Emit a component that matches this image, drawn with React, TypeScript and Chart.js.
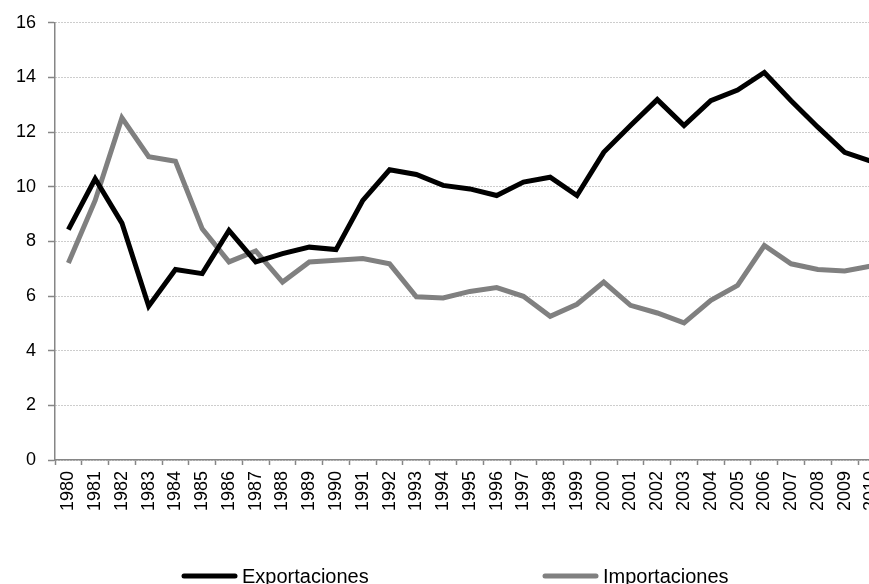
import React, { useEffect, useRef } from "react";
import { Chart, registerables } from "chart.js";

Chart.register(...registerables);

const years = [
  "1980", "1981", "1982", "1983", "1984", "1985", "1986", "1987", "1988", "1989",
  "1990", "1991", "1992", "1993", "1994", "1995", "1996", "1997", "1998", "1999",
  "2000", "2001", "2002", "2003", "2004", "2005", "2006", "2007", "2008", "2009", "2010",
];

const exportaciones = [
  8.43, 10.29, 8.67, 5.63, 6.97, 6.82, 8.4, 7.25, 7.55, 7.79,
  7.7, 9.5, 10.62, 10.45, 10.05, 9.92, 9.68, 10.17, 10.35, 9.68,
  11.26, 12.24, 13.19, 12.24, 13.15, 13.54, 14.18, 13.15, 12.18, 11.26, 10.93,
];

const importaciones = [
  7.21, 9.5, 12.52, 11.1, 10.93, 8.46, 7.25, 7.65, 6.51, 7.25,
  7.31, 7.37, 7.18, 5.97, 5.93, 6.17, 6.31, 5.99, 5.26, 5.7,
  6.51, 5.66, 5.38, 5.02, 5.84, 6.39, 7.85, 7.18, 6.97, 6.92, 7.1,
];

const seriesNames = ["Exportaciones", "Importaciones"];
const seriesColors = ["#000000", "#808080"];

const FONT = "Arial, 'Liberation Sans', sans-serif";
const W = 899;
const H = 584;

const legendPlugin = {
  id: "customLegend",
  afterDraw(chart: any) {
    const ctx = chart.ctx;
    const starts = [182, 543];
    const y = 576;
    ctx.save();
    chart.data.datasets.forEach((ds: any, i: number) => {
      const x = starts[i];
      ctx.strokeStyle = ds.borderColor;
      ctx.lineWidth = 5;
      ctx.lineCap = "round";
      ctx.beginPath();
      ctx.moveTo(x + 2, y);
      ctx.lineTo(x + 53, y);
      ctx.stroke();
      ctx.fillStyle = "#000";
      ctx.font = `20px ${FONT}`;
      ctx.textBaseline = "middle";
      ctx.textAlign = "left";
      ctx.fillText(ds.label, x + 60, y + 1);
    });
    ctx.restore();
  },
};

export default function App() {
  const ref = useRef<HTMLCanvasElement>(null);
  useEffect(() => {
    if (!ref.current) return;
    const chart = new Chart(ref.current, {
      type: "line",
      data: {
        labels: years,
        datasets: [
          {
            label: seriesNames[0],
            data: exportaciones,
            borderColor: seriesColors[0],
            backgroundColor: seriesColors[0],
            borderWidth: 5,
            pointRadius: 0,
            tension: 0,
            borderJoinStyle: "miter",
          },
          {
            label: seriesNames[1],
            data: importaciones,
            borderColor: seriesColors[1],
            backgroundColor: seriesColors[1],
            borderWidth: 5,
            pointRadius: 0,
            tension: 0,
            borderJoinStyle: "miter",
          },
        ],
      },
      options: {
        responsive: false,
        animation: false,
        layout: { padding: { left: 0, right: 0, top: 22, bottom: 60 } },
        plugins: { legend: { display: false }, tooltip: { enabled: false } },
        scales: {
          x: {
            offset: true,
            grid: {
              offset: true,
              drawOnChartArea: false,
              drawTicks: true,
              tickLength: 5,
              tickColor: "#868686",
              tickWidth: 1.5,
            },
            border: { display: true, color: "#868686", width: 1.5 },
            ticks: {
              autoSkip: false,
              maxRotation: 90,
              minRotation: 90,
              padding: 6,
              color: "#000",
              font: { family: FONT, size: 18 },
            },
            afterFit(scale: any) {
              scale.height = H - 60 - 460;
            },
          },
          y: {
            min: 0,
            max: 16,
            ticks: {
              stepSize: 2,
              padding: 12,
              color: "#000",
              font: { family: FONT, size: 18 },
            },
            grid: {
              color: "#9a9a9a",
              lineWidth: 1,
              tickLength: 7,
              tickColor: "#868686",
              tickWidth: 1.5,
              tickBorderDash: [],
            },
            border: { display: true, color: "#868686", width: 1.5, dash: [1, 2] },
            afterFit(scale: any) {
              scale.width = 55;
            },
          },
        },
      },
      plugins: [legendPlugin],
    });
    return () => chart.destroy();
  }, []);

  return (
    <div
      style={{
        position: "absolute",
        left: 0,
        top: 0,
        width: 869,
        height: 584,
        overflow: "hidden",
        background: "#fff",
      }}
    >
      <canvas ref={ref} width={W} height={H} style={{ width: W, height: H, display: "block" }} />
    </div>
  );
}
